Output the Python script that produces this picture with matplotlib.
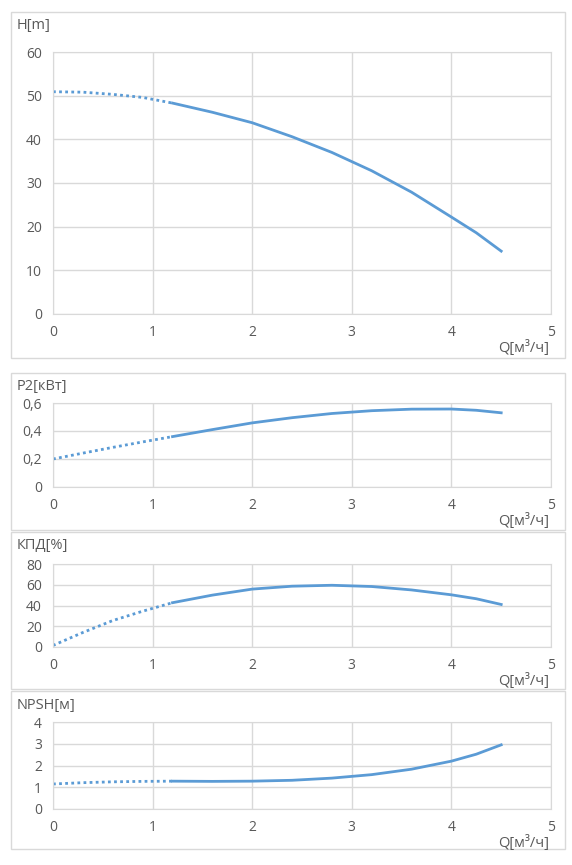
import numpy as np
import matplotlib
matplotlib.use("Agg")
import matplotlib.pyplot as plt
from matplotlib.patches import Rectangle

plt.rcParams['font.family'] = ['Open Sans', 'DejaVu Sans']

# flow, m3/h (dotted part up to 1.2, solid after)
q_dot = [0.0, 0.3, 0.6, 0.9, 1.2]
q_sol = [1.2, 1.6, 2.0, 2.4, 2.8, 3.2, 3.6, 4.0, 4.25, 4.5]

h_dot = [50.9, 50.8, 50.3, 49.6, 48.3]
h_sol = [48.3, 46.2, 43.8, 40.6, 37.0, 32.8, 27.9, 22.2, 18.6, 14.4]

p_dot = [0.20, 0.242, 0.283, 0.322, 0.36]
p_sol = [0.36, 0.41, 0.458, 0.495, 0.525, 0.545, 0.556, 0.557, 0.548, 0.53]

eff_dot = [1.5, 14.0, 25.5, 34.5, 42.7]
eff_sol = [42.7, 50.0, 55.8, 58.6, 59.5, 58.3, 55.0, 50.3, 46.5, 41.0]

npsh_dot = [1.15, 1.21, 1.25, 1.27, 1.28]
npsh_sol = [1.28, 1.27, 1.28, 1.32, 1.42, 1.58, 1.83, 2.20, 2.52, 2.95]

W, H = 572, 865
fig = plt.figure(figsize=(W / 100, H / 100), dpi=100)
fig.patch.set_facecolor("white")

blue = "#5b9bd5"
grid = "#d9d9d9"
txt = "#595959"

# (border top, border bottom, axes top, axes bottom, ylim, yticks, ylabels, title, data)
panels = [
    (12, 358, 52, 314, (0, 60), [0, 10, 20, 30, 40, 50, 60],
     ["0", "10", "20", "30", "40", "50", "60"], "H[m]", h_dot, h_sol),
    (373, 530, 403, 487, (0, 0.6), [0, 0.2, 0.4, 0.6],
     ["0", "0,2", "0,4", "0,6"], "P2[кВт]", p_dot, p_sol),
    (532, 689, 564, 647, (0, 80), [0, 20, 40, 60, 80],
     ["0", "20", "40", "60", "80"], "КПД[%]", eff_dot, eff_sol),
    (691, 849, 722, 809, (0, 4), [0, 1, 2, 3, 4],
     ["0", "1", "2", "3", "4"], "NPSH[м]", npsh_dot, npsh_sol),
]

x0, x1 = 53, 551
for btop, bbot, atop, abot, ylim, yt, ytl, title, yd, ys in panels:
    fig.add_artist(Rectangle((11 / W, 1 - bbot / H), 554 / W, (bbot - btop) / H,
                             transform=fig.transFigure, fill=False,
                             edgecolor=grid, linewidth=1.0))
    ax = fig.add_axes([x0 / W, 1 - abot / H, (x1 - x0) / W, (abot - atop) / H])
    ax.plot(q_dot, yd, color=blue, linestyle=(0, (1, 1.2)), linewidth=2)
    ax.plot(q_sol, ys, color=blue, linewidth=2)
    ax.set_xlim(0, 5)
    ax.set_ylim(*ylim)
    ax.set_xticks([0, 1, 2, 3, 4, 5])
    ax.set_xticklabels(["0", "1", "2", "3", "4", "5"])
    ax.set_yticks(yt)
    ax.set_yticklabels(ytl)
    ax.grid(True, color=grid, linewidth=1)
    ax.set_axisbelow(True)
    for s in ax.spines.values():
        s.set_color(grid)
    ax.tick_params(length=0, colors=txt, labelsize=10, pad=8)
    fig.text(17 / W, 1 - (btop + 14) / H, title, color=txt, fontsize=10.5,
             ha="left", va="center")
    fig.text(549 / W, 1 - (abot + 34) / H, "Q[м³/ч]", color=txt, fontsize=10.5,
             ha="right", va="center")

fig.savefig("out.png", dpi=100)
